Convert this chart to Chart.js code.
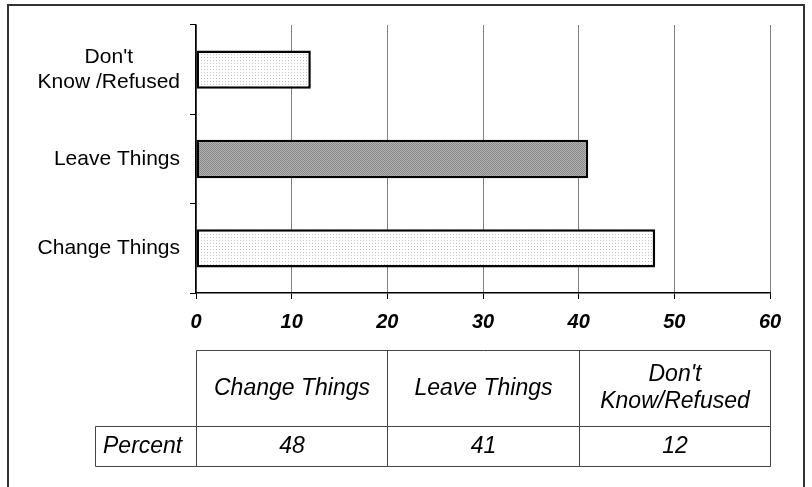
<!DOCTYPE html>
<html>
<head>
<meta charset="utf-8">
<script src="https://cdn.jsdelivr.net/npm/chart.js@4/dist/chart.umd.min.js"></script>
<style>
  html, body { margin: 0; padding: 0; background: #fff; }
  #wrap { width: 812px; height: 487px; position: relative; }
</style>
</head>
<body>
<div id="wrap"><canvas id="myChart" width="812" height="487"></canvas></div>
<script>
// data
var categories = ["Change Things", "Leave Things", "Don't Know/Refused"];
var axisLabels = [["Change Things"], ["Leave Things"], ["Don't", "Know /Refused"]];
var tableHeads = [["Change Things"], ["Leave Things"], ["Don't", "Know/Refused"]];
var percent = [48, 41, 12];
var rowLabel = "Percent";
var xTicks = [0, 10, 20, 30, 40, 50, 60];

var FONT = "'Liberation Sans', Arial, sans-serif";

function makePattern(bg, dot, size) {
  var c = document.createElement("canvas");
  c.width = size;
  c.height = size;
  var g = c.getContext("2d");
  g.fillStyle = bg;
  g.fillRect(0, 0, size, size);
  g.fillStyle = dot;
  g.fillRect(0, 0, 1, 1);
  if (size == 2) g.fillRect(1, 1, 1, 1);
  return g.createPattern(c, "repeat");
}

var ctx = document.getElementById("myChart").getContext("2d");
var lightFill = makePattern("#ffffff", "#c4c4c4", 3);
var darkFill = makePattern("#b0b0b0", "#8a8a8a", 2);

// outer frame, category labels and the data table under the axis
var framePlugin = {
  id: "frame",
  beforeDraw: function(chart) {
    var c = chart.ctx;
    c.save();
    c.strokeStyle = "#333";
    c.lineWidth = 2;
    c.strokeRect(8, 5, 796, 500);
    c.restore();
  },
  afterDraw: function(chart) {
    var c = chart.ctx;
    var x = chart.scales.x;
    var y = chart.scales.y;

    // y labels: block right aligned, lines centred on each other
    c.save();
    c.fillStyle = "#000";
    c.font = "21px " + FONT;
    c.textAlign = "center";
    c.textBaseline = "middle";
    axisLabels.forEach(function(lines, i) {
      var w = 0;
      lines.forEach(function(t) { w = Math.max(w, c.measureText(t).width); });
      var cx = 180 - w / 2;
      var lh = 25;
      var y0 = y.getPixelForValue(i) - (lines.length - 1) * lh / 2;
      lines.forEach(function(t, k) { c.fillText(t, cx, y0 + k * lh); });
    });
    c.restore();

    var cols = [0, 20, 40, 60].map(function(v) { return Math.round(x.getPixelForValue(v)) + 0.5; });
    var top = 350.5, mid = 426.5, bot = 466.5, left = 95.5;
    c.save();
    c.strokeStyle = "#444";
    c.lineWidth = 1;
    c.beginPath();
    c.moveTo(cols[0], top); c.lineTo(cols[3], top);
    c.moveTo(left, mid); c.lineTo(cols[3], mid);
    c.moveTo(left, bot); c.lineTo(cols[3], bot);
    c.moveTo(left, mid); c.lineTo(left, bot);
    cols.forEach(function(cx) { c.moveTo(cx, top); c.lineTo(cx, bot); });
    c.stroke();

    c.fillStyle = "#000";
    c.font = "italic 23px " + FONT;
    c.textAlign = "center";
    c.textBaseline = "middle";
    for (var i = 0; i < categories.length; i++) {
      var cx = (cols[i] + cols[i + 1]) / 2;
      var lines = tableHeads[i];
      var lh = 27;
      var y0 = (top + mid) / 2 - (lines.length - 1) * lh / 2;
      lines.forEach(function(t, k) { c.fillText(t, cx, y0 + k * lh); });
      c.fillText(String(percent[i]), cx, (mid + bot) / 2);
    }
    c.textAlign = "left";
    c.fillText(rowLabel, 103, (mid + bot) / 2);
    c.restore();
  }
};

var myBarChart = new Chart(ctx, {
  type: "bar",
  data: {
    labels: categories,
    datasets: [
      {
        data: percent,
        backgroundColor: [lightFill, darkFill, lightFill],
        borderColor: "#000",
        borderWidth: 2.5,
        borderSkipped: false,
        barPercentage: 0.43,
        categoryPercentage: 1
      }
    ]
  },
  options: {
    indexAxis: "y",
    responsive: false,
    animation: false,
    layout: { padding: { left: 0, top: 25, right: 42, bottom: 0 } },
    plugins: { legend: { display: false }, tooltip: { enabled: false } },
    scales: {
      x: {
        min: 0,
        max: 60,
        afterBuildTicks: function(scale) {
          scale.ticks = xTicks.map(function(v) { return { value: v }; });
        },
        afterFit: function(scale) { scale.height = 194; },
        grid: { color: "#808080", tickColor: "#000", tickLength: 6, lineWidth: 1 },
        border: { color: "#000", width: 1.5 },
        ticks: {
          color: "#000",
          padding: 11,
          font: { family: FONT, size: 20, weight: "bold", style: "italic" }
        }
      },
      y: {
        reverse: true,
        afterFit: function(scale) { scale.width = 196; },
        grid: { drawOnChartArea: false, offset: true, tickColor: "#000", tickLength: 6 },
        border: { color: "#000", width: 1.5 },
        ticks: { display: false }
      }
    }
  },
  plugins: [framePlugin]
});
</script>
</body>
</html>
